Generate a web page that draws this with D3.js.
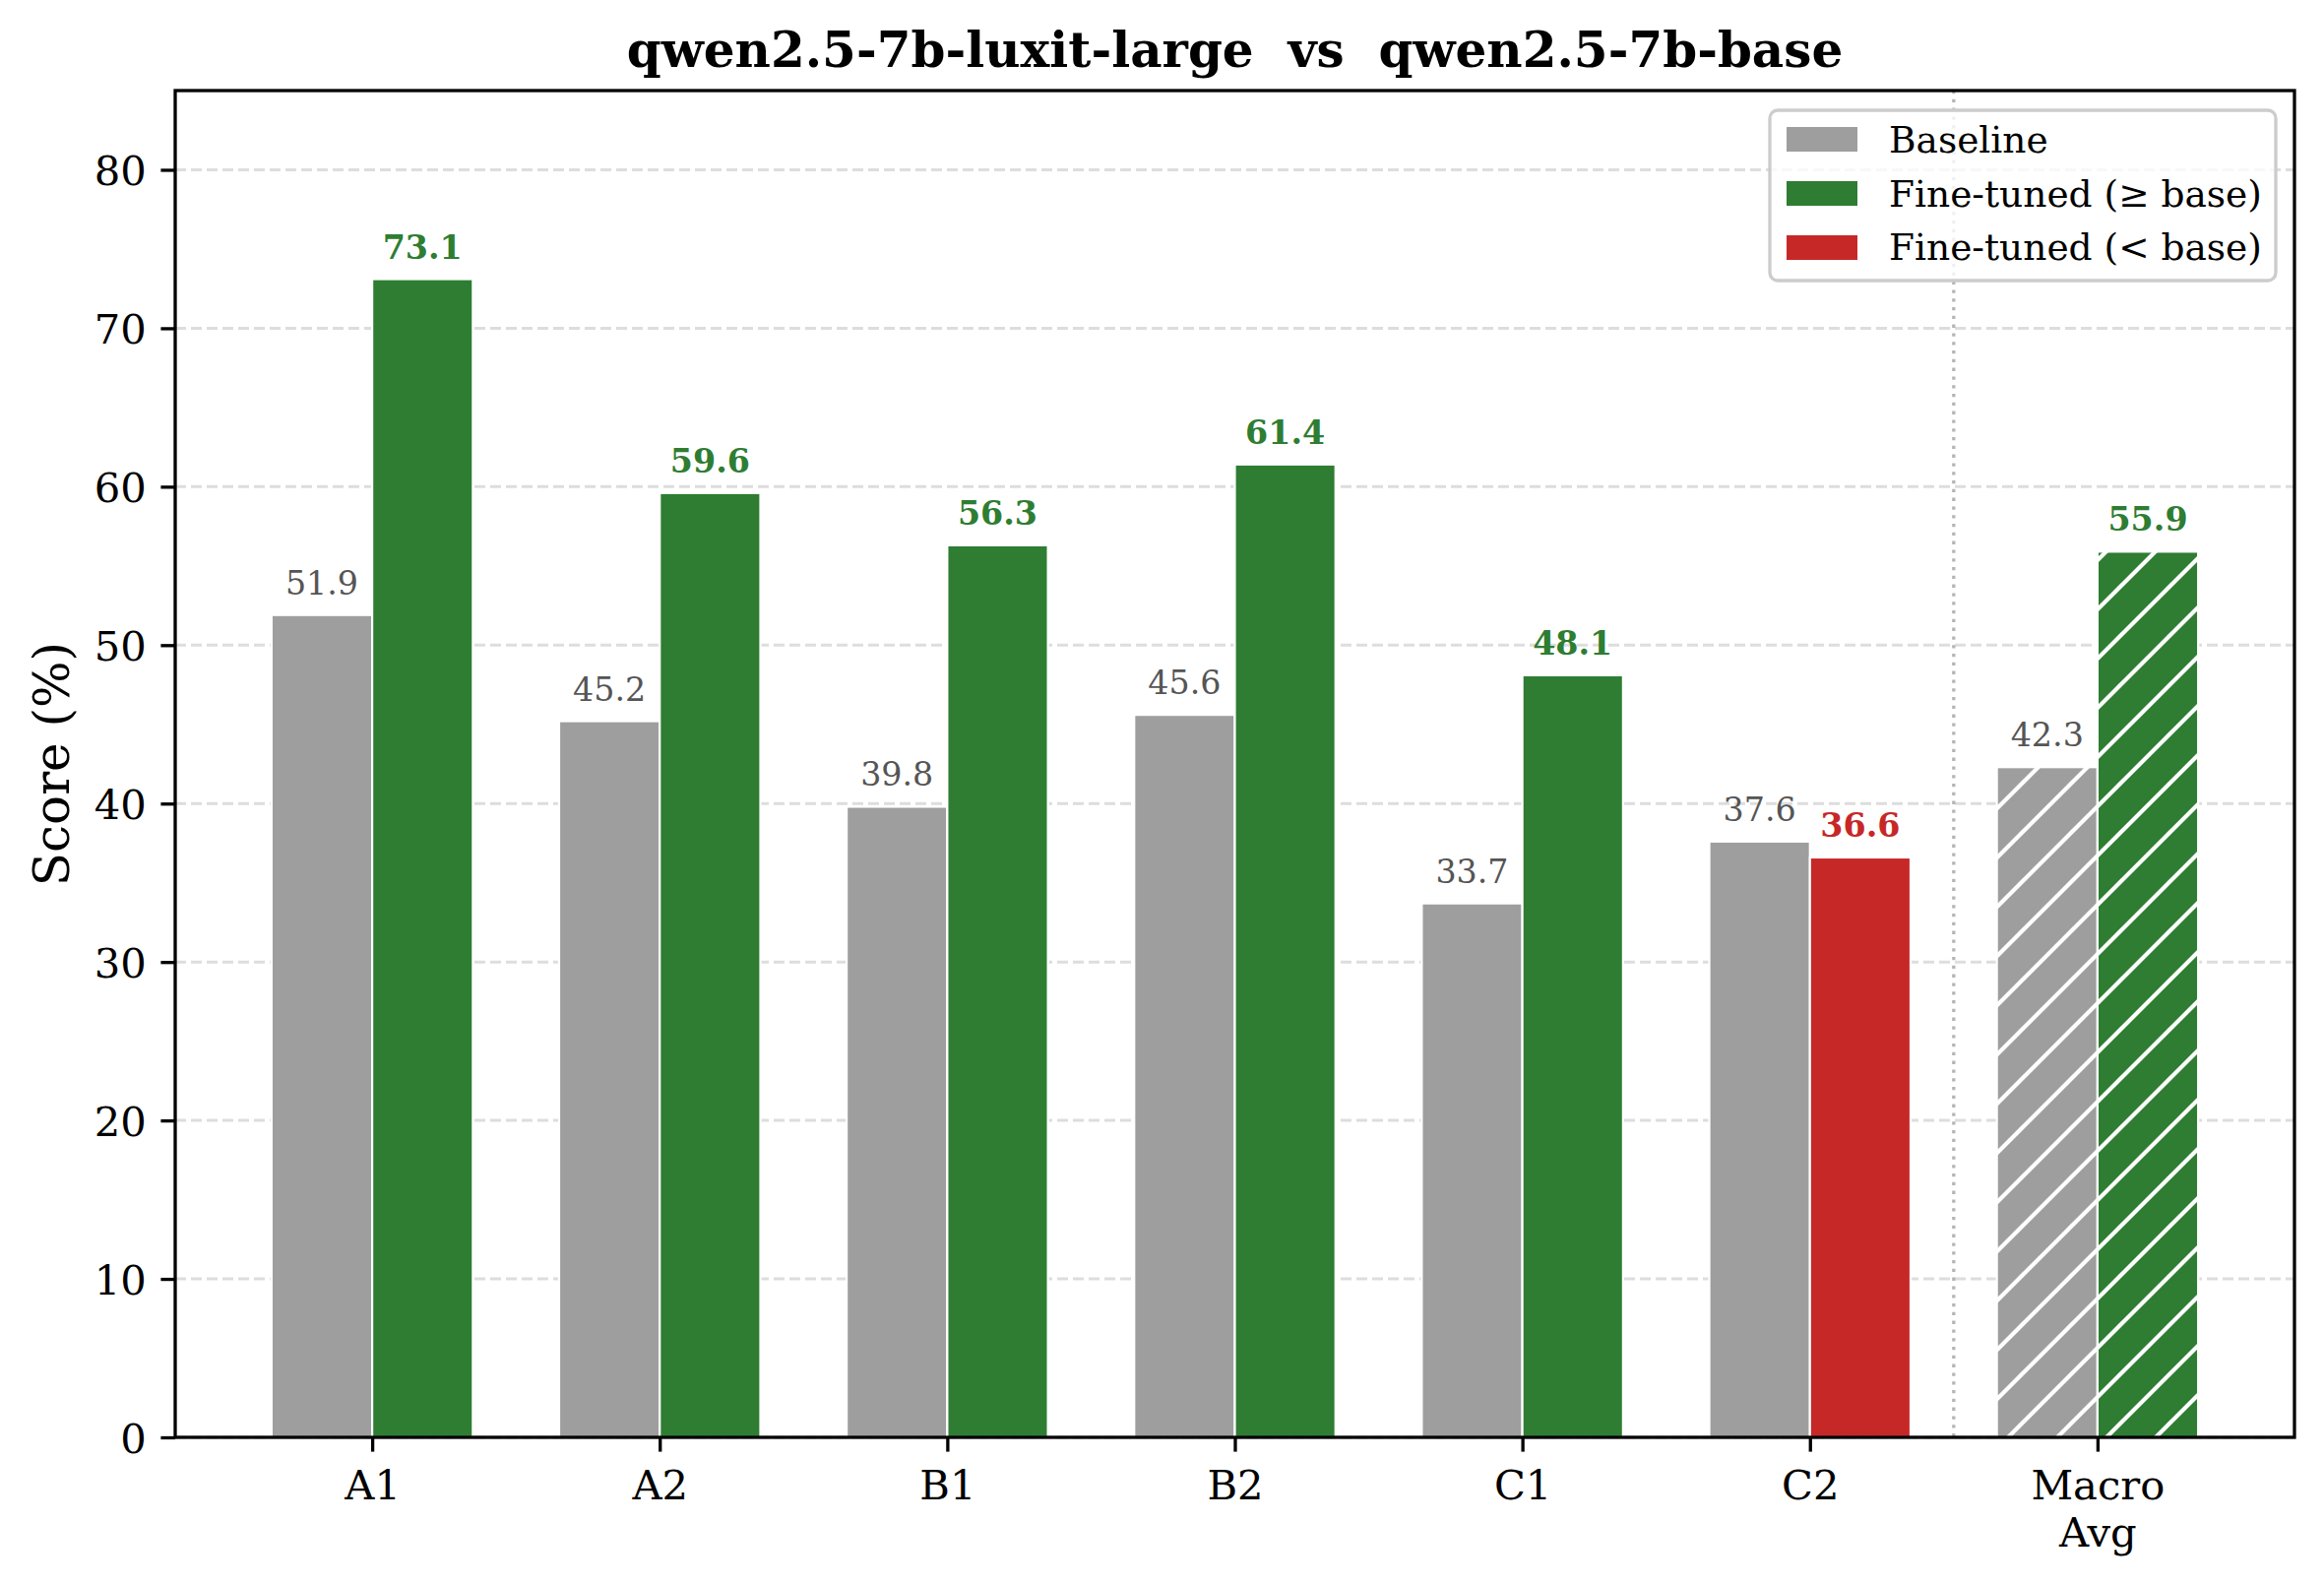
<!DOCTYPE html>
<html>
<head>
<meta charset="utf-8">
<script src="https://cdn.jsdelivr.net/npm/d3@7"></script>
<style>
  body { margin: 0; background: #fff; }
  svg { display: block; font-family: "DejaVu Serif", serif; }
</style>
</head>
<body>
<svg id="chart" width="2361" height="1610"></svg>
<script>
// data
const categories = ["A1", "A2", "B1", "B2", "C1", "C2", "Macro\nAvg"];
const baselineScores = [51.9, 45.2, 39.8, 45.6, 33.7, 37.6, 42.3];
const finetunedScores = [73.1, 59.6, 56.3, 61.4, 48.1, 36.6, 55.9];
const yTicks = [0, 10, 20, 30, 40, 50, 60, 70, 80];
const legendLabels = ["Baseline", "Fine-tuned (\u2265 base)", "Fine-tuned (< base)"];

const GRAY = "#9e9e9e", GREEN = "#2e7d32", RED = "#c62828";
const barW = 0.35;
const macroIdx = categories.length - 1;

const plotL = 178, plotR = 2331, plotT = 92, plotB = 1460;
const svg = d3.select("#chart");

const x = d3.scaleLinear().domain([-0.685, 6.685]).range([plotL, plotR]);
const y = d3.scaleLinear().domain([0, 85]).range([plotB, plotT]);

// hatch pattern for the macro bars
const defs = svg.append("defs");
const pat = defs.append("pattern")
    .attr("id", "hatch")
    .attr("patternUnits", "userSpaceOnUse")
    .attr("width", 50).attr("height", 50);
pat.append("path")
    .attr("d", "M-25,25 L25,-25 M0,50 L50,0 M25,75 L75,25")
    .attr("stroke", "#fff")
    .attr("stroke-width", 4.2);

// grid
svg.append("g").selectAll("line")
    .data(yTicks)
    .join("line")
    .attr("x1", plotL).attr("x2", plotR)
    .attr("y1", d => y(d)).attr("y2", d => y(d))
    .attr("stroke", "#dddddd")
    .attr("stroke-width", 3)
    .attr("stroke-dasharray", "11,5");

// separator before macro avg
svg.append("line")
    .attr("x1", x(macroIdx - 0.5)).attr("x2", x(macroIdx - 0.5))
    .attr("y1", plotT).attr("y2", plotB)
    .attr("stroke", "#b5b5b5")
    .attr("stroke-width", 3.3)
    .attr("stroke-dasharray", "3.3,5.5");

// bars
const rows = categories.map((c, i) => ({
    i: i,
    base: baselineScores[i],
    ft: finetunedScores[i],
    ftColor: finetunedScores[i] >= baselineScores[i] ? GREEN : RED
}));

const bars = svg.append("g");
rows.forEach(d => {
    const parts = [
        { x0: d.i - barW, v: d.base, color: GRAY },
        { x0: d.i, v: d.ft, color: d.ftColor }
    ];
    parts.forEach(p => {
        const rx = x(p.x0), rw = x(p.x0 + barW) - x(p.x0);
        bars.append("rect")
            .attr("x", rx).attr("y", y(p.v))
            .attr("width", rw).attr("height", y(0) - y(p.v))
            .attr("fill", p.color);
        if (d.i === macroIdx) {
            bars.append("rect")
                .attr("x", rx).attr("y", y(p.v))
                .attr("width", rw).attr("height", y(0) - y(p.v))
                .attr("fill", "url(#hatch)");
        }
        bars.append("rect")
            .attr("x", rx).attr("y", y(p.v))
            .attr("width", rw).attr("height", y(0) - y(p.v))
            .attr("fill", "none")
            .attr("stroke", "#fff")
            .attr("stroke-width", 2.2);
    });
});

// value labels
const labels = svg.append("g").attr("text-anchor", "middle").attr("font-size", 33.3);
rows.forEach(d => {
    labels.append("text")
        .attr("x", x(d.i - barW / 2))
        .attr("y", y(d.base) - 21)
        .attr("fill", "#555555")
        .text(d.base.toFixed(1));
    labels.append("text")
        .attr("x", x(d.i + barW / 2))
        .attr("y", y(d.ft) - 21)
        .attr("fill", d.ftColor)
        .attr("font-weight", "bold")
        .text(d.ft.toFixed(1));
});

// axes
const yAxis = svg.append("g")
    .attr("transform", `translate(${plotL},0)`)
    .call(d3.axisLeft(y).tickValues(yTicks).tickSize(14.6).tickPadding(14.6));
yAxis.select(".domain").remove();
yAxis.selectAll(".tick line").attr("stroke", "#000").attr("stroke-width", 3.3);
yAxis.selectAll(".tick text")
    .attr("font-family", "DejaVu Serif")
    .attr("font-size", 41.7)
    .attr("fill", "#000")
    .attr("dy", "0.36em");

const xAxis = svg.append("g")
    .attr("transform", `translate(0,${plotB})`)
    .call(d3.axisBottom(x).tickValues(d3.range(categories.length))
        .tickFormat(i => categories[i]).tickSize(14.6).tickPadding(14.6));
xAxis.select(".domain").remove();
xAxis.selectAll(".tick line").attr("stroke", "#000").attr("stroke-width", 3.3);
xAxis.selectAll(".tick text")
    .attr("font-family", "DejaVu Serif")
    .attr("font-size", 41.7)
    .attr("fill", "#000")
    .attr("dy", null)
    .each(function (i) {
        const t = d3.select(this);
        const lines = categories[i].split("\n");
        t.text(null);
        lines.forEach((ln, k) => {
            t.append("tspan")
                .attr("x", 0)
                .attr("y", 62.6 + k * 48)
                .text(ln);
        });
    });

// spines
svg.append("rect")
    .attr("x", plotL).attr("y", plotT)
    .attr("width", plotR - plotL).attr("height", plotB - plotT)
    .attr("fill", "none")
    .attr("stroke", "#000")
    .attr("stroke-width", 3.3);

// y label
svg.append("text")
    .attr("transform", `translate(70,${(plotT + plotB) / 2}) rotate(-90)`)
    .attr("text-anchor", "middle")
    .attr("font-size", 50)
    .attr("fill", "#000")
    .text("Score (%)");

// title
svg.append("text")
    .attr("x", (plotL + plotR) / 2)
    .attr("y", 68)
    .attr("text-anchor", "middle")
    .attr("font-size", 50)
    .attr("font-weight", "bold")
    .attr("fill", "#000")
    .style("white-space", "pre")
    .text("qwen2.5-7b-luxit-large  vs  qwen2.5-7b-base");

// legend
const legend = svg.append("g");
legend.append("rect")
    .attr("x", 1798).attr("y", 112)
    .attr("width", 514).attr("height", 173)
    .attr("rx", 8).attr("ry", 8)
    .attr("fill", "#fff").attr("fill-opacity", 0.8)
    .attr("stroke", "#cccccc").attr("stroke-width", 3.3);
const legendColors = [GRAY, GREEN, RED];
legendLabels.forEach((lab, k) => {
    legend.append("rect")
        .attr("x", 1815).attr("y", 129 + k * 55)
        .attr("width", 72).attr("height", 25)
        .attr("fill", legendColors[k]);
    legend.append("text")
        .attr("x", 1919).attr("y", 155 + k * 54.5)
        .attr("font-size", 37.5)
        .attr("fill", "#000")
        .text(lab);
});
</script>
</body>
</html>
